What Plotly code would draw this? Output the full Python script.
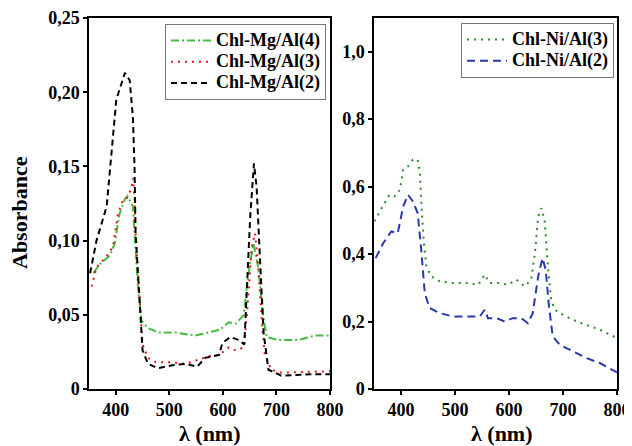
import plotly.graph_objects as go

# ---------------- data ----------------
mg2_x = [352, 364, 383, 401, 417, 426, 432, 435, 437, 444, 450, 460, 478, 506, 531, 552, 567, 593, 599, 614, 630, 640, 645, 651, 658, 663, 670, 676, 685, 709, 772, 800]
mg2_y = [0.078, 0.100, 0.123, 0.195, 0.213, 0.208, 0.183, 0.150, 0.105, 0.060, 0.026, 0.017, 0.014, 0.016, 0.017, 0.015, 0.021, 0.023, 0.031, 0.035, 0.033, 0.030, 0.069, 0.116, 0.152, 0.136, 0.082, 0.038, 0.013, 0.009, 0.010, 0.010]

mg3_x = [355, 364, 382, 395, 404, 413, 420, 429, 432, 435, 437, 444, 450, 460, 475, 500, 531, 556, 574, 593, 611, 624, 639, 645, 654, 660, 666, 672, 678, 690, 709, 800]
mg3_y = [0.069, 0.082, 0.089, 0.096, 0.118, 0.127, 0.128, 0.135, 0.142, 0.128, 0.105, 0.060, 0.030, 0.021, 0.018, 0.018, 0.017, 0.020, 0.022, 0.023, 0.028, 0.026, 0.028, 0.051, 0.096, 0.105, 0.082, 0.049, 0.024, 0.013, 0.011, 0.012]

mg4_x = [358, 370, 389, 398, 407, 417, 422, 432, 435, 441, 448, 460, 481, 512, 549, 580, 595, 611, 624, 639, 647, 657, 666, 676, 682, 703, 740, 772, 800]
mg4_y = [0.078, 0.084, 0.090, 0.098, 0.118, 0.128, 0.130, 0.123, 0.105, 0.071, 0.046, 0.041, 0.038, 0.038, 0.036, 0.039, 0.040, 0.045, 0.044, 0.050, 0.076, 0.098, 0.082, 0.047, 0.035, 0.033, 0.033, 0.036, 0.036]

ni3_x = [351, 364, 379, 388, 398, 404, 413, 422, 431, 435, 438, 442, 447, 456, 472, 496, 521, 543, 555, 564, 583, 598, 614, 629, 641, 648, 654, 660, 666, 672, 678, 685, 694, 718, 743, 768, 800]
ni3_y = [0.497, 0.536, 0.576, 0.571, 0.590, 0.650, 0.660, 0.680, 0.680, 0.640, 0.540, 0.440, 0.363, 0.334, 0.319, 0.314, 0.314, 0.309, 0.339, 0.314, 0.314, 0.309, 0.324, 0.304, 0.324, 0.403, 0.511, 0.536, 0.500, 0.363, 0.265, 0.235, 0.225, 0.205, 0.190, 0.176, 0.151]

ni2_x = [353, 367, 382, 394, 404, 413, 422, 431, 438, 444, 453, 472, 496, 521, 546, 555, 561, 577, 592, 607, 623, 635, 644, 654, 662, 668, 674, 681, 694, 718, 743, 768, 800]
ni2_y = [0.388, 0.432, 0.467, 0.462, 0.541, 0.576, 0.556, 0.521, 0.403, 0.284, 0.240, 0.225, 0.215, 0.215, 0.215, 0.235, 0.210, 0.210, 0.200, 0.210, 0.210, 0.195, 0.225, 0.334, 0.388, 0.353, 0.245, 0.156, 0.131, 0.112, 0.092, 0.077, 0.049]

series_names = ["Chl-Mg/Al(4)", "Chl-Mg/Al(3)", "Chl-Mg/Al(2)", "Chl-Ni/Al(3)", "Chl-Ni/Al(2)"]

x_tickvals = [400, 500, 600, 700, 800]
x_ticktext = ["400", "500", "600", "700", "800"]
left_tickvals = [0, 0.05, 0.10, 0.15, 0.20, 0.25]
left_ticktext = ["0", "0,05", "0,10", "0,15", "0,20", "0,25"]
right_tickvals = [0, 0.2, 0.4, 0.6, 0.8, 1.0]
right_ticktext = ["0", "0,2", "0,4", "0,6", "0,8", "1,0"]

# ---------------- figure ----------------
FONT = "Liberation Serif"
W, H = 624, 438   # page body has an 8px margin
OFF = 8


def px(x):
    return (x - OFF) / W


def py(y):
    return 1 - (y - OFF) / H


def lname(s):
    return "<span style='font-size:18px'>" + s + "</span>"


fig = go.Figure()
fig.add_trace(go.Scatter(x=mg4_x, y=mg4_y, mode="lines", name=lname(series_names[0]),
                         line=dict(color="#3fbf3a", width=2, dash="8px,3px,2px,3px"),
                         xaxis="x", yaxis="y", legend="legend"))
fig.add_trace(go.Scatter(x=mg3_x, y=mg3_y, mode="lines", name=lname(series_names[1]),
                         line=dict(color="#e3161f", width=2, dash="2px,5px"),
                         xaxis="x", yaxis="y", legend="legend"))
fig.add_trace(go.Scatter(x=mg2_x, y=mg2_y, mode="lines", name=lname(series_names[2]),
                         line=dict(color="#000000", width=2, dash="6px,4px"),
                         xaxis="x", yaxis="y", legend="legend"))
fig.add_trace(go.Scatter(x=ni3_x, y=ni3_y, mode="lines", name=lname(series_names[3]),
                         line=dict(color="#2a8c2a", width=2, dash="2px,5px"),
                         xaxis="x2", yaxis="y2", legend="legend2"))
fig.add_trace(go.Scatter(x=ni2_x, y=ni2_y, mode="lines", name=lname(series_names[4]),
                         line=dict(color="#2a38b0", width=2, dash="8px,5px"),
                         xaxis="x2", yaxis="y2", legend="legend2"))

tickfont = dict(family=FONT, size=18, color="black", weight="bold")
axis_common = dict(showline=True, linecolor="black", linewidth=1.5, mirror=True,
                   ticks="outside", ticklen=4, tickwidth=1.5, tickcolor="black",
                   showgrid=False, zeroline=False, tickfont=tickfont, automargin=False)

ydom = [py(389), py(18)]
legend_font = dict(family=FONT, size=14, color="black", weight="bold")
fig.update_layout(
    width=W, height=H,
    margin=dict(l=0, r=0, t=0, b=0, autoexpand=False),
    paper_bgcolor="white", plot_bgcolor="white",
    xaxis=dict(domain=[px(89), px(330)], range=[350, 800], anchor="y",
               tickvals=x_tickvals, ticktext=x_ticktext, **axis_common),
    yaxis=dict(domain=ydom, range=[0, 0.25], anchor="x",
               tickvals=left_tickvals, ticktext=left_ticktext, **axis_common),
    xaxis2=dict(domain=[px(374), px(617)], range=[350, 800], anchor="y2",
                tickvals=x_tickvals, ticktext=x_ticktext, **axis_common),
    yaxis2=dict(domain=ydom, range=[0, 1.1], anchor="x2",
                tickvals=right_tickvals, ticktext=right_ticktext, **axis_common),
    legend=dict(x=px(326), xanchor="right", y=py(24), yanchor="top",
                bgcolor="white", bordercolor="#777777", borderwidth=1,
                font=legend_font, tracegroupgap=0, itemwidth=40),
    legend2=dict(x=px(614), xanchor="right", y=py(23), yanchor="top",
                 bgcolor="white", bordercolor="#777777", borderwidth=1,
                 font=legend_font, tracegroupgap=0, itemwidth=40),
    showlegend=True,
)

title_font = dict(family=FONT, size=22, color="black", weight="bold")
fig.add_annotation(text="Absorbance", xref="paper", yref="paper", x=px(20), y=py(213),
                   textangle=-90, showarrow=False, font=title_font, xanchor="center", yanchor="middle")
fig.add_annotation(text="λ (nm)", xref="paper", yref="paper", x=px(210), y=py(433),
                   showarrow=False, font=title_font, xanchor="center", yanchor="middle")
fig.add_annotation(text="λ (nm)", xref="paper", yref="paper", x=px(502), y=py(433),
                   showarrow=False, font=title_font, xanchor="center", yanchor="middle")

fig.write_html("out.html")
